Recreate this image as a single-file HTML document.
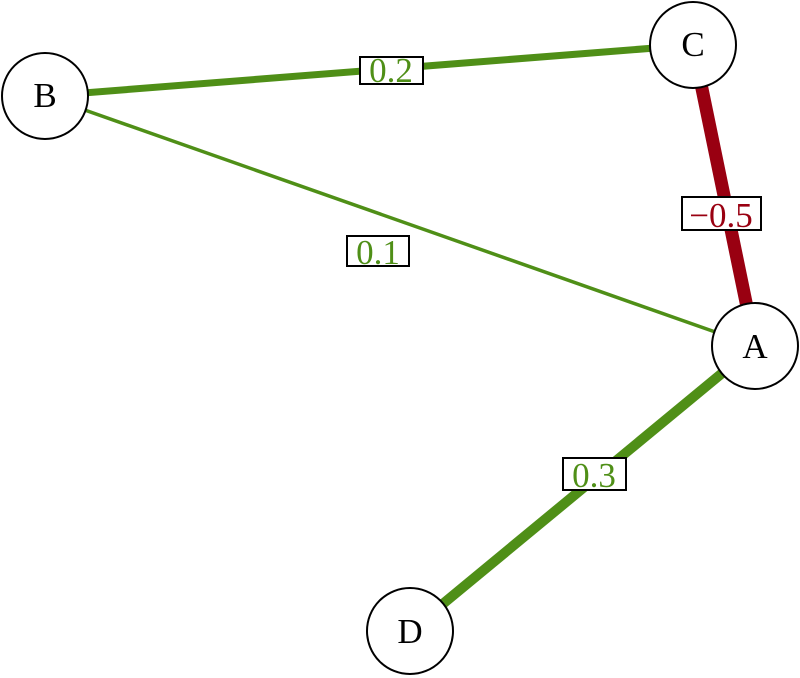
<!DOCTYPE html>
<html><head><style>html,body{margin:0;padding:0;background:#fff}svg{display:block}text{font-family:"Liberation Serif",serif;font-size:35px}</style></head><body>
<svg width="800" height="678" xmlns="http://www.w3.org/2000/svg">
<g stroke-linecap="butt">
<line x1="45" y1="96" x2="693" y2="45" stroke="#4f8f17" stroke-width="7"/>
<line x1="45" y1="96" x2="755" y2="346" stroke="#4f8f17" stroke-width="3.5"/>
<line x1="693" y1="45" x2="755" y2="346" stroke="#990011" stroke-width="13"/>
<line x1="755" y1="346" x2="410" y2="631" stroke="#4f8f17" stroke-width="10"/>
</g>
<g fill="#fff" stroke="#000" stroke-width="2">
<rect x="360" y="57" width="63" height="27"/>
<rect x="347" y="236" width="62" height="30"/>
<rect x="682" y="197" width="79" height="33"/>
<rect x="563" y="458" width="63" height="32"/>
</g>
<g text-anchor="middle">
<text x="391" y="82" fill="#4f8f17">0.2</text>
<text x="378" y="264" fill="#4f8f17">0.1</text>
<text x="721" y="227" fill="#990011">−0.5</text>
<text x="594" y="487" fill="#4f8f17">0.3</text>
</g>
<g fill="#fff" stroke="#000" stroke-width="2">
<circle cx="45" cy="96" r="43"/>
<circle cx="693" cy="45" r="43"/>
<circle cx="755" cy="346" r="43"/>
<circle cx="410" cy="631" r="43"/>
</g>
<g text-anchor="middle" fill="#000">
<text x="45" y="107">B</text>
<text x="693" y="56">C</text>
<text x="755" y="358">A</text>
<text x="410" y="643">D</text>
</g>
</svg>
</body></html>
